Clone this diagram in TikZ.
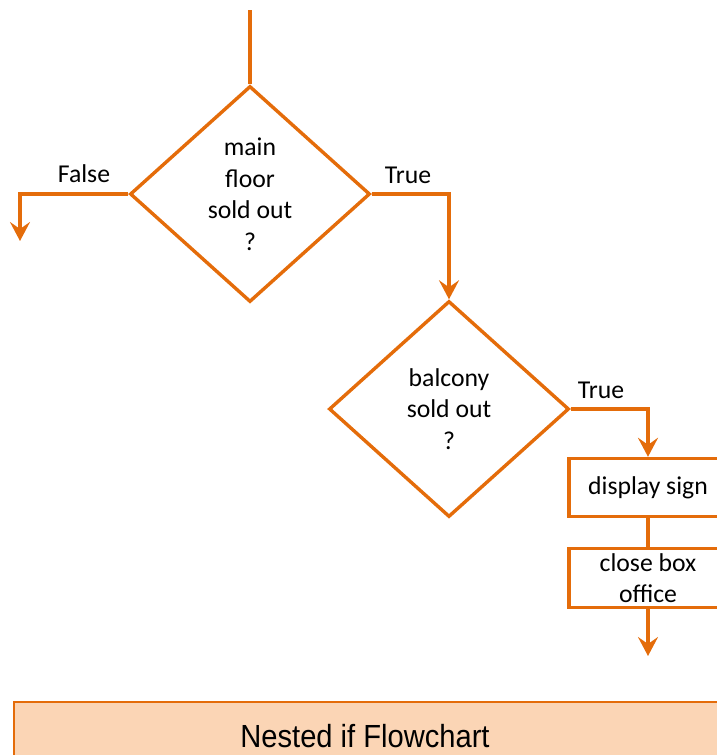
\documentclass[tikz,border=0pt]{standalone}
\usepackage{fontspec}
\setmainfont{Carlito}
\newfontfamily\bannerfont[FakeStretch=0.91]{Liberation Sans}
\usetikzlibrary{shapes.geometric,arrows.meta}
\definecolor{flowor}{RGB}{228,108,10}
\definecolor{peach}{RGB}{251,213,181}
\begin{document}
\begin{tikzpicture}[x=1pt,y=-1pt,
  flow/.style={draw=flowor,line width=3.4pt},
  arr/.style={flow,-{Stealth[length=19pt,width=20pt,inset=7pt]}},
  decision/.style={flow,diamond,minimum width=240pt,minimum height=216pt,inner sep=0pt,align=center,
    font=\fontsize{25.7}{31.5}\selectfont},
  process/.style={flow,rectangle,minimum width=158pt,align=center,inner sep=0pt,
    font=\fontsize{25.7}{31.5}\selectfont},
  lbl/.style={font=\fontsize{25.7}{31.5}\selectfont,inner sep=0pt}]
\useasboundingbox (0,0) rectangle (717,755);
\clip (0,0) rectangle (717,755);

% decisions
\node[decision] (d1) at (250,194) {main\\floor\\sold out\\?};
\node[decision] (d2) at (449,409) {balcony\\sold out\\?};

% actions
\node[process,minimum height=58pt] (b1) at (648,487.5) {display sign};
\node[process,minimum height=59pt] (b2) at (648,578) {close box\\office};

% free ends
\coordinate (start) at (250,10);
\coordinate (falseend) at (20,241);
\coordinate (end) at (648,656);

% connectors
\draw[flow] (start) -- (d1.north);
\draw[arr] (d1.west) -| (falseend);
\draw[arr] (d1.east) -| (d2.north);
\draw[arr] (d2.east) -| (b1.north);
\draw[flow] (b1.south) -- (b2.north);
\draw[arr] (b2.south) -- (end);

% branch labels
\node[lbl] (lf) at (84,174) {False};
\node[lbl] (lt1) at (408,175) {True};
\node[lbl] (lt2) at (601,390) {True};

% caption banner
\node[draw=flowor,fill=peach,line width=2pt,rectangle,minimum width=720pt,minimum height=70pt,
  anchor=north west,inner sep=0pt] (banner) at (13,701) {};
\node[font=\bannerfont\fontsize{32}{36}\selectfont,inner sep=0pt] (title) at (365,736) {Nested if Flowchart};
\end{tikzpicture}
\end{document}
